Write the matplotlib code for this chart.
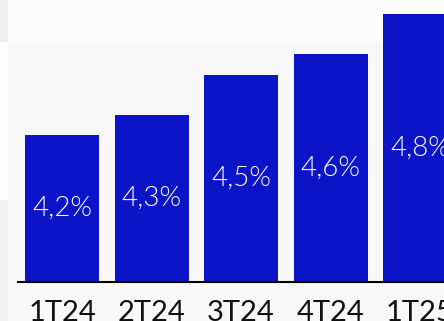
import numpy as np
import matplotlib
matplotlib.use("Agg")
import matplotlib.pyplot as plt
from matplotlib.patches import Rectangle

# Quarterly rate (%)
quarters = ["1T24", "2T24", "3T24", "4T24", "1T25"]
rates = [4.2, 4.3, 4.5, 4.6, 4.8]
rate_labels = ["4,2%", "4,3%", "4,5%", "4,6%", "4,8%"]

W, H = 444, 321
fig = plt.figure(figsize=(W / 100, H / 100), dpi=100)
fig.patch.set_facecolor("#f8f8f8")

# soft background panels
def px_rect(x0, y0, w, h, color):
    fig.patches.append(Rectangle((x0 / W, 1 - (y0 + h) / H), w / W, h / H,
                                 transform=fig.transFigure, color=color,
                                 zorder=-10, linewidth=0))

px_rect(8, 0, 436, 42, "#fcfcfc")
px_rect(0, 0, 8, 42, "#eeeeee")
px_rect(0, 42, 8, 158, "#fdfdfd")
px_rect(0, 200, 8, 121, "#f1f1f1")

base_y = 282
ax = fig.add_axes([0, (H - base_y) / H, 1, base_y / H])
ax.set_facecolor("none")

x = np.arange(len(quarters))
ymin, ymax = 3.47, 4.87
ax.bar(x, rates, width=0.827, color="#0c14c8", zorder=2)
ax.set_xlim(-0.693, 4.268)
ax.set_ylim(ymin, ymax)

for xi, v, lab in zip(x, rates, rate_labels):
    ax.text(xi, (ymin + v) / 2, lab, ha="center", va="center",
            color="white", fontsize=20, family="Lato", fontweight=300,
            zorder=3)

ax.set_xticks(x, quarters)
ax.tick_params(axis="x", length=0, pad=13, labelsize=21, labelcolor="#111111")
for t in ax.get_xticklabels():
    t.set_family("Lato")
ax.set_yticks([])
for side in ("top", "right", "left"):
    ax.spines[side].set_visible(False)
ax.spines["bottom"].set_color("black")
ax.spines["bottom"].set_linewidth(1.5)
ax.spines["bottom"].set_bounds(-0.49, 4.268)
ax.spines["bottom"].set_zorder(4)

fig.savefig("out.png", dpi=100, facecolor=fig.get_facecolor())
